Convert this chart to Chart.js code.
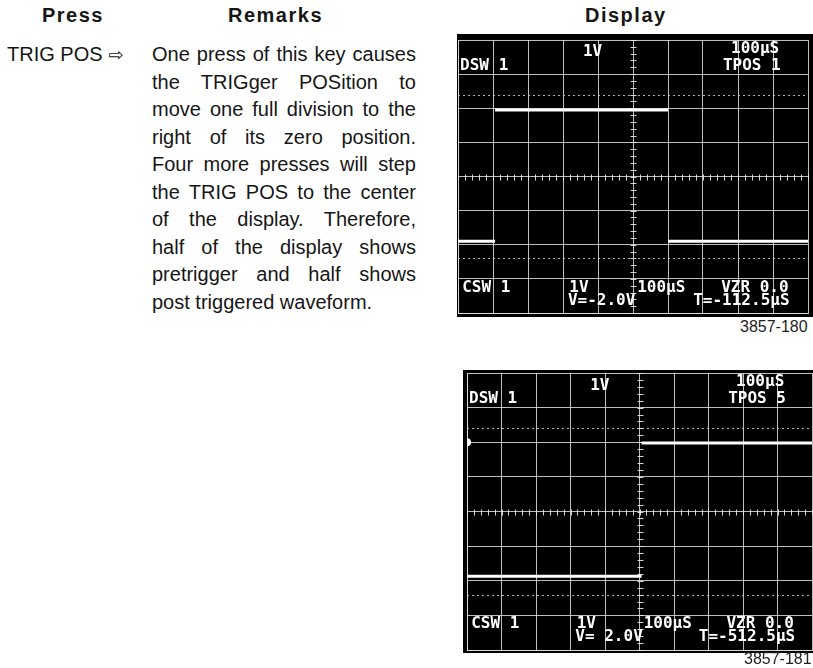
<!DOCTYPE html>
<html><head><meta charset="utf-8">
<script src="https://cdn.jsdelivr.net/npm/chart.js@4.4.1/dist/chart.umd.min.js"></script>
<style>
html,body{margin:0;padding:0;background:#fff;}
body{width:813px;height:668px;position:relative;overflow:hidden;font-family:"Liberation Sans",Arial,Helvetica,sans-serif;color:#161616;}
.hdr{position:absolute;font-weight:bold;font-size:20px;top:4px;letter-spacing:1.5px;}
.press{position:absolute;left:7px;top:41px;font-size:20px;line-height:27.5px;white-space:nowrap;}
.remarks{position:absolute;left:152px;top:41px;width:264px;font-size:20px;line-height:27.5px;}
.remarks div{text-align:justify;text-align-last:justify;}
.remarks div.last{text-align-last:left;}
canvas{position:absolute;}
.fig{position:absolute;font-size:16px;color:#222;white-space:nowrap;}
</style></head>
<body>
<div class="hdr" style="left:42px">Press</div>
<div class="hdr" style="left:228px">Remarks</div>
<div class="hdr" style="left:585px">Display</div>
<div class="press">TRIG POS <span style="font-family:'DejaVu Sans';font-size:18px">⇨</span></div>
<div class="remarks" id="remarks"></div>
<canvas id="scope1" width="356" height="283" style="left:457px;top:34px"></canvas>
<div class="fig" style="left:740px;top:318px">3857-180</div>
<canvas id="scope2" width="350" height="283" style="left:463px;top:370px"></canvas>
<div class="fig" style="left:744px;top:650px">3857-181</div>
<script>
// ---- text ----
const remarkLines = [
  "One press of this key causes",
  "the TRIGger POSition to",
  "move one full division to the",
  "right of its zero position.",
  "Four more presses will step",
  "the TRIG POS to the center",
  "of the display. Therefore,",
  "half of the display shows",
  "pretrigger and half shows",
  "post triggered waveform."
];
// ---- data: time in µs (100 µs/div), amplitude in V (1 V/div) ----
const timeTicksUs = [0,100,200,300,400,500,600,700,800,900,1000];
const voltTicks = [-4,-3,-2,-1,0,1,2,3,4];
const trace1TimeUs = [0, 106, 106, 600, 600, 1000];
const trace1Volts  = [-1.9, -1.9, 1.95, 1.95, -1.9, -1.9];
const trace2TimeUs = [0, 506, 506, 1000];
const trace2Volts  = [-1.87, -1.87, 1.98, 1.98];
const trace2MarkerVolts = 2.0;
// ---- on-screen readouts ----
const screen1Text = ["1V","100µS","DSW 1","TPOS 1","CSW 1","1V","100µS","VZR 0.0","V=-2.0V","T=-112.5µS"];
const screen2Text = ["1V","100µS","DSW 1","TPOS 5","CSW 1","1V","100µS","VZR 0.0","V= 2.0V","T=-512.5µS"];
// readout anchor (µs, V) for each text slot
const readoutSlotsUs = [357, 780, 6, 757, 12, 318, 512, 752, 314, 672];
const readoutSlotsV  = [3.64, 3.74, 3.25, 3.25, -3.25, -3.25, -3.25, -3.25, -3.63, -3.63];

const rem = document.getElementById('remarks');
remarkLines.forEach((t,i)=>{const d=document.createElement('div');d.textContent=t;if(i===remarkLines.length-1)d.className='last';rem.appendChild(d);});

const scopePlugin = {
  id:'scope',
  beforeDraw(chart){
    const c=chart.ctx; c.save(); c.fillStyle='#000'; c.fillRect(0,0,chart.width,chart.height); c.restore();
  },
  beforeDatasetsDraw(chart){
    const {ctx, scales:{x,y}} = chart;
    ctx.save();
    ctx.strokeStyle='rgba(235,235,235,0.9)'; ctx.lineWidth=1;
    const cx=Math.round(x.getPixelForValue(500))+0.5, cy=Math.round(y.getPixelForValue(0))+0.5;
    for(let t=0;t<=1000;t+=20){const px=Math.round(x.getPixelForValue(t))+0.5;ctx.beginPath();ctx.moveTo(px,cy-3);ctx.lineTo(px,cy+3);ctx.stroke();}
    for(let k=0;k<=40;k++){const py=Math.round(y.getPixelForValue(-4+k*0.2))+0.5;ctx.beginPath();ctx.moveTo(cx-3,py);ctx.lineTo(cx+3,py);ctx.stroke();}
    ctx.setLineDash([2,3]); ctx.strokeStyle='rgba(210,210,210,0.85)';
    [2.4,-2.4].forEach(v=>{const py=Math.round(y.getPixelForValue(v))+0.5;ctx.beginPath();ctx.moveTo(x.left,py);ctx.lineTo(x.right,py);ctx.stroke();});
    ctx.restore();
  },
  afterDatasetsDraw(chart, args, opts){
    const {ctx, scales:{x,y}} = chart;
    ctx.save();
    ctx.fillStyle='#fff'; ctx.font='bold 16px "DejaVu Sans Mono", monospace';
    ctx.textBaseline='middle'; ctx.textAlign='left';
    (opts.texts||[]).forEach((t,i)=>{
      ctx.fillText(t, x.getPixelForValue(readoutSlotsUs[i]), y.getPixelForValue(readoutSlotsV[i]));
    });
    if (opts.marker !== undefined) {
      ctx.beginPath(); ctx.arc(x.left, y.getPixelForValue(opts.marker), 4, -Math.PI/2, Math.PI/2); ctx.fill();
    }
    ctx.restore();
  }
};

function makeScope(id, times, volts, texts, pad, marker){
  const pts = times.map((t,i)=>({x:t,y:volts[i]}));
  const gridCol = 'rgba(222,222,222,0.85)';
  const axisGrid = {color:gridCol, lineWidth:1, drawTicks:false};
  return new Chart(document.getElementById(id), {
    type:'line',
    data:{datasets:[{data:pts, borderColor:'#fff', borderWidth:3, pointRadius:0, tension:0,
      segment:{borderColor: c => (c.p0.parsed.x===c.p1.parsed.x ? 'rgba(0,0,0,0)' : '#fff')}}]},
    options:{
      responsive:false, animation:false, devicePixelRatio:1,
      layout:{padding:pad},
      plugins:{legend:{display:false}, tooltip:{enabled:false}, scope:{texts, marker}},
      scales:{
        x:{type:'linear', min:0, max:1000, afterBuildTicks:s=>{s.ticks=timeTicksUs.map(v=>({value:v}));},
           ticks:{display:false}, grid:axisGrid, border:{display:true,color:gridCol}},
        y:{type:'linear', min:-4, max:4, afterBuildTicks:s=>{s.ticks=voltTicks.map(v=>({value:v}));},
           ticks:{display:false}, grid:axisGrid, border:{display:true,color:gridCol}}
      }
    },
    plugins:[scopePlugin]
  });
}
makeScope('scope1', trace1TimeUs, trace1Volts, screen1Text, {left:1, top:6, right:5, bottom:4});
makeScope('scope2', trace2TimeUs, trace2Volts, screen2Text, {left:4, top:3, right:1, bottom:3}, trace2MarkerVolts);
</script>
</body></html>
